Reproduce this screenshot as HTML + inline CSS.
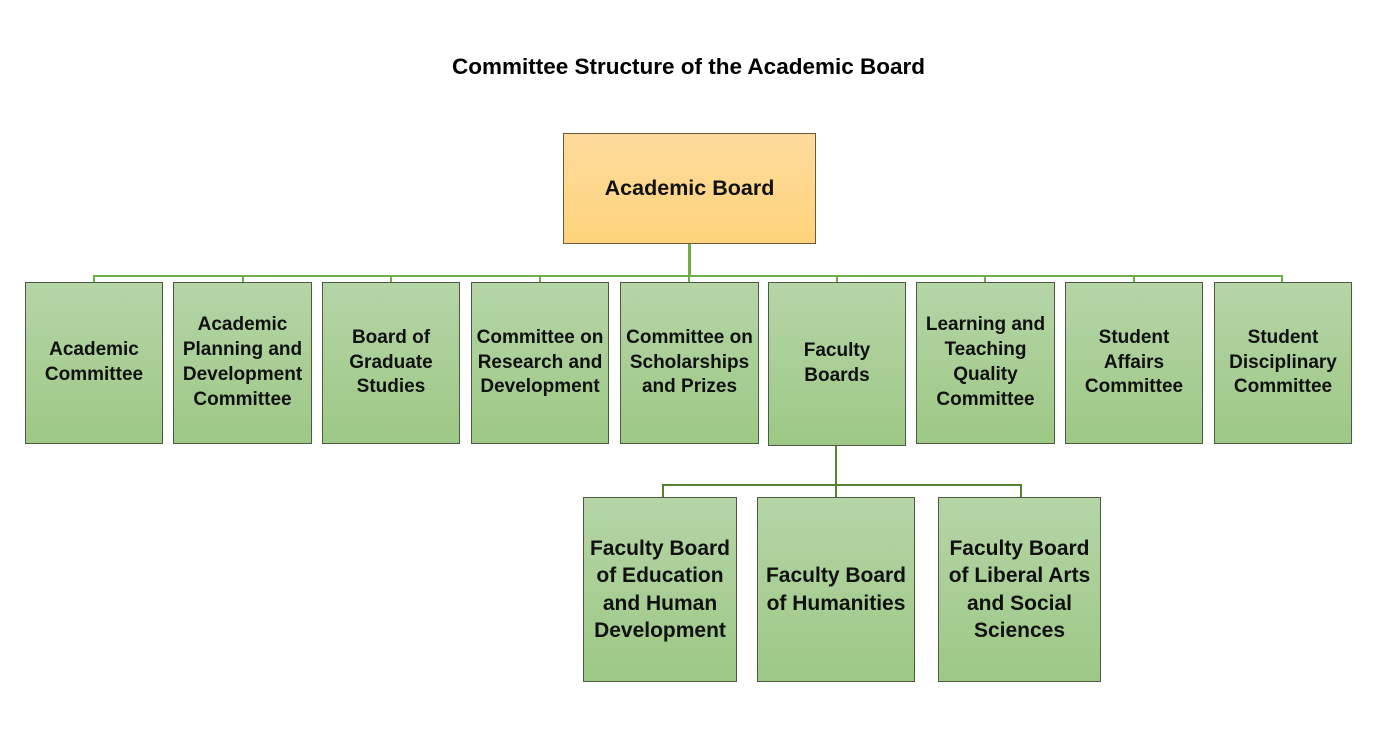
<!DOCTYPE html>
<html><head><meta charset="utf-8"><style>
body{margin:0;width:1377px;height:742px;background:#fff;position:relative;overflow:hidden;font-family:"Liberation Sans",sans-serif;}
.t{position:absolute;left:0;width:1377px;top:54px;text-align:center;font-weight:bold;font-size:22.5px;color:#000;}
.b{position:absolute;box-sizing:border-box;border:1px solid #4e5b42;background:linear-gradient(#b5d5a7,#9dc885);display:flex;align-items:center;justify-content:center;text-align:center;font-weight:bold;color:#111;font-size:19px;line-height:24.8px;white-space:nowrap;}
.big{font-size:21px;line-height:27.3px;}
.top{background:linear-gradient(#fedb9d,#fdd37b);border-color:#6b5a3a;font-size:21.5px;}
.l{position:absolute;background:#70ad47;}
.d{position:absolute;background:#548235;}
</style></head><body>
<div class="t">Committee Structure of the Academic Board</div>
<div class="b top" style="left:563px;top:133px;width:253px;height:111px;">Academic Board</div>
<div class="l" style="left:688px;top:244px;width:3px;height:33px;"></div>
<div class="l" style="left:93px;top:275px;width:1190px;height:2px;"></div>
<div class="l" style="left:93px;top:275px;width:2px;height:8px;"></div>
<div class="l" style="left:242px;top:275px;width:2px;height:8px;"></div>
<div class="l" style="left:390px;top:275px;width:2px;height:8px;"></div>
<div class="l" style="left:539px;top:275px;width:2px;height:8px;"></div>
<div class="l" style="left:688px;top:275px;width:2px;height:8px;"></div>
<div class="l" style="left:836px;top:275px;width:2px;height:8px;"></div>
<div class="l" style="left:984px;top:275px;width:2px;height:8px;"></div>
<div class="l" style="left:1133px;top:275px;width:2px;height:8px;"></div>
<div class="l" style="left:1281px;top:275px;width:2px;height:8px;"></div>
<div class="b" style="left:25px;top:282px;width:138px;height:162px;">Academic<br>Committee</div>
<div class="b" style="left:173px;top:282px;width:139px;height:162px;">Academic<br>Planning and<br>Development<br>Committee</div>
<div class="b" style="left:322px;top:282px;width:138px;height:162px;">Board of<br>Graduate<br>Studies</div>
<div class="b" style="left:471px;top:282px;width:138px;height:162px;">Committee on<br>Research and<br>Development</div>
<div class="b" style="left:620px;top:282px;width:139px;height:162px;">Committee on<br>Scholarships<br>and Prizes</div>
<div class="b" style="left:768px;top:282px;width:138px;height:164px;">Faculty<br>Boards</div>
<div class="b" style="left:916px;top:282px;width:139px;height:162px;">Learning and<br>Teaching<br>Quality<br>Committee</div>
<div class="b" style="left:1065px;top:282px;width:138px;height:162px;">Student<br>Affairs<br>Committee</div>
<div class="b" style="left:1214px;top:282px;width:138px;height:162px;">Student<br>Disciplinary<br>Committee</div>
<div class="d" style="left:835px;top:446px;width:2px;height:40px;"></div>
<div class="d" style="left:662px;top:484px;width:360px;height:2px;"></div>
<div class="d" style="left:662px;top:484px;width:2px;height:14px;"></div>
<div class="d" style="left:835px;top:484px;width:2px;height:14px;"></div>
<div class="d" style="left:1020px;top:484px;width:2px;height:14px;"></div>
<div class="b big" style="left:583px;top:497px;width:154px;height:185px;">Faculty Board<br>of Education<br>and Human<br>Development</div>
<div class="b big" style="left:757px;top:497px;width:158px;height:185px;">Faculty Board<br>of Humanities</div>
<div class="b big" style="left:938px;top:497px;width:163px;height:185px;">Faculty Board<br>of Liberal Arts<br>and Social<br>Sciences</div>
</body></html>
